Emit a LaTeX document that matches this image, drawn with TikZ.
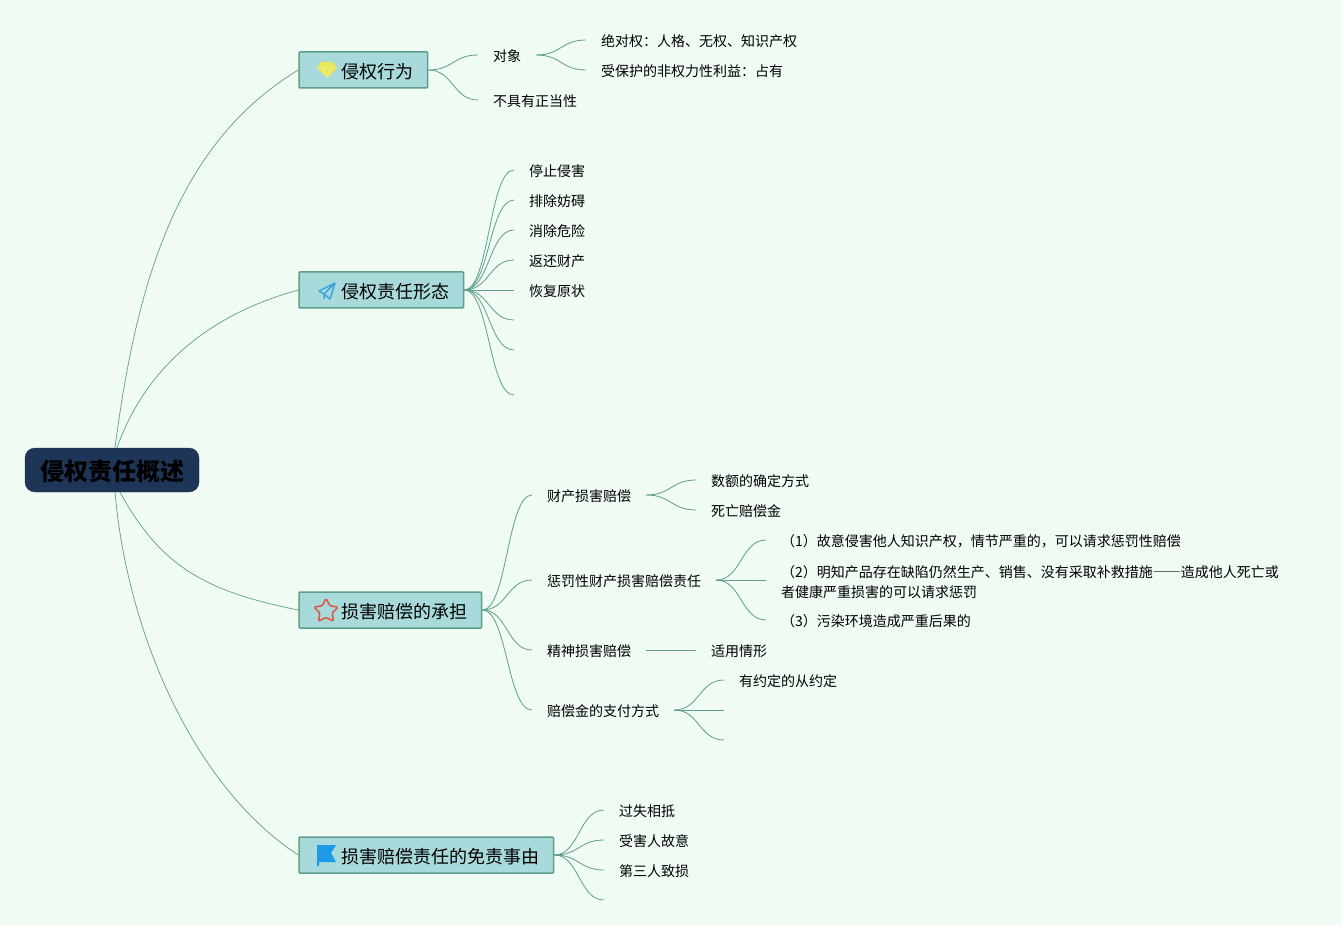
\documentclass[tikz,border=0pt]{standalone}
\usepackage{fontspec}
\setmainfont{Noto Sans CJK SC}
\usetikzlibrary{calc, shapes.geometric}

\definecolor{bgcolor}{HTML}{F0FBF3}
\definecolor{rootcolor}{HTML}{1D3557}
\definecolor{topiccolor}{HTML}{A8DADC}
\definecolor{linecolor}{HTML}{5E9E8C}
\definecolor{gemcolor}{HTML}{E8E85A}
\definecolor{planecolor}{HTML}{3BA5DC}
\definecolor{starcolor}{HTML}{E0533F}
\definecolor{flagcolor}{HTML}{1E9BE8}

% S-shaped connector between two anchors
\newcommand{\branch}[2]{\draw[link] let \p1=(#1), \p2=(#2) in (\p1) .. controls ({(\x1+\x2)/2},\y1) and ({(\x1+\x2)/2},\y2) .. (\p2);}

\begin{document}
\begin{tikzpicture}[x=1pt, y=-1pt,
    % Define the styles of the three levels
    rootbox/.style={draw=rootcolor, fill=rootcolor, rounded corners=10pt, minimum width=174pt, minimum height=44pt, inner sep=0pt, text height=22pt, text depth=1pt, font=\fontsize{24}{28}\selectfont\bfseries},
    topic/.style={draw=linecolor, fill=topiccolor, line width=1.5pt, rounded corners=1pt, anchor=west, minimum height=36pt, inner xsep=14.55pt, inner ysep=0pt, text height=17pt, text depth=0pt, font=\fontsize{18}{22}\selectfont, execute at begin node=\hspace*{27.45pt}},
    leaf/.style={anchor=west, inner xsep=15pt, inner ysep=0pt, text height=13pt, text depth=0pt, font=\fontsize{14}{20}\selectfont},
    link/.style={draw=linecolor, line width=0.8pt},
    rootlink/.style={draw=linecolor, line width=0.7pt}
]

% Background
\fill[bgcolor] (0,0) rectangle (1341,925);
\useasboundingbox (0,0) rectangle (1341,925);

% Root and topics
\node[rootbox] (root) at (112,470) {侵权责任概述};
\node[topic] (xingwei) at (298.3,70) {侵权行为};
\node[topic] (xingtai) at (298.3,290) {侵权责任形态};
\node[topic] (chengdan) at (298.3,610) {损害赔偿的承担};
\node[topic] (mianze) at (298.3,855) {损害赔偿责任的免责事由};

% Icons of the topics
\fill[gemcolor] (321,62) -- (333,62) -- (337,68) -- (327,78) -- (317,68) -- cycle;
\draw[white!50!gemcolor, line width=0.5pt] (317,68) -- (337,68) (323,68) -- (327,77) -- (331,68);
\draw[planecolor, line width=1.5pt, line join=round] (335,283) -- (319,291) -- (324,294) -- (335,283) -- (330,299) -- (324,294) -- (324,299);
\node[star, star points=5, star point ratio=2, draw=starcolor, line width=1.5pt, rounded corners=1.5pt, inner sep=4.5pt] (staricon) at (326,611) {};
\fill[flagcolor] (317,845) -- (336,845) -- (331,853) -- (336,862) -- (319,862) -- (319,866) -- (317,866) -- cycle;

% Leaves of the first topic
\node[leaf] (duixiang) at (478,55) {对象};
\node[leaf] (buju) at (478,100) {不具有正当性};
\node[leaf] (jueduiquan) at (586,40) {绝对权：人格、无权、知识产权};
\node[leaf] (shoubaohu) at (586,70) {受保护的非权力性利益：占有};

% Leaves of the second topic
\node[leaf] (tingzhi) at (514,170) {停止侵害};
\node[leaf] (paichu) at (514,200) {排除妨碍};
\node[leaf] (xiaochu) at (514,230) {消除危险};
\node[leaf] (fanhuan) at (514,260) {返还财产};
\node[leaf] (huifu) at (514,290) {恢复原状};
\coordinate (blanka) at (514,320);
\coordinate (blankb) at (514,350);
\coordinate (blankc) at (514,395);

% Leaves of the third topic
\node[leaf] (caichan) at (532,495) {财产损害赔偿};
\node[leaf] (chengfa) at (532,580) {惩罚性财产损害赔偿责任};
\node[leaf] (jingshen) at (532,650) {精神损害赔偿};
\node[leaf] (zhifu) at (532,710) {赔偿金的支付方式};
\node[leaf] (shue) at (696,480) {数额的确定方式};
\node[leaf] (siwang) at (696,510) {死亡赔偿金};
\node[leaf] (guyi) at (766,540) {（1）故意侵害他人知识产权，情节严重的，可以请求惩罚性赔偿};
\node[anchor=west, inner xsep=15pt, inner ysep=0pt, align=left, font=\fontsize{14}{20}\selectfont] (mingzhi) at (766,582) {（2）明知产品存在缺陷仍然生产、销售、没有采取补救措施{\addfontfeature{CharacterWidth=Full}——}造成他人死亡或\\者健康严重损害的可以请求惩罚};
\node[leaf] (wuran) at (766,620) {（3）污染环境造成严重后果的};
\node[leaf] (shiyong) at (696,650) {适用情形};
\node[leaf] (youyue) at (724,680) {有约定的从约定};
\coordinate (blankd) at (724,710);
\coordinate (blanke) at (724,740);

% Leaves of the fourth topic
\node[leaf] (guoshi) at (604,810) {过失相抵};
\node[leaf] (shouhai) at (604,840) {受害人故意};
\node[leaf] (disan) at (604,870) {第三人致损};
\coordinate (blankf) at (604,900);

% Connectors from the root
\draw[rootlink] ([xshift=3pt]root.north) .. controls (137,279) and (178,143) .. (xingwei.west);
\draw[rootlink] ([xshift=5pt]root.north) .. controls (150,355) and (225,310) .. (xingtai.west);
\draw[rootlink] ([xshift=8pt]root.south) .. controls (160,565) and (203,591) .. (chengdan.west);
\draw[rootlink] ([xshift=3pt]root.south) .. controls (128,640) and (198,790) .. (mianze.west);

% Connectors of the topics
\foreach \kid in {duixiang, buju} {\branch{xingwei.east}{\kid.west}}
\foreach \kid in {jueduiquan, shoubaohu} {\branch{duixiang.east}{\kid.west}}
\foreach \kid in {tingzhi, paichu, xiaochu, fanhuan, huifu} {\branch{xingtai.east}{\kid.west}}
\foreach \kid in {blanka, blankb, blankc} {\branch{xingtai.east}{\kid}}
\foreach \kid in {caichan, chengfa, jingshen, zhifu} {\branch{chengdan.east}{\kid.west}}
\foreach \kid in {shue, siwang} {\branch{caichan.east}{\kid.west}}
\foreach \kid in {guyi, wuran} {\branch{chengfa.east}{\kid.west}}
\branch{chengfa.east}{[yshift=2pt]mingzhi.west}
\branch{jingshen.east}{shiyong.west}
\branch{zhifu.east}{youyue.west}
\foreach \kid in {blankd, blanke} {\branch{zhifu.east}{\kid}}
\foreach \kid in {guoshi, shouhai, disan} {\branch{mianze.east}{\kid.west}}
\branch{mianze.east}{blankf}

\end{tikzpicture}
\end{document}
